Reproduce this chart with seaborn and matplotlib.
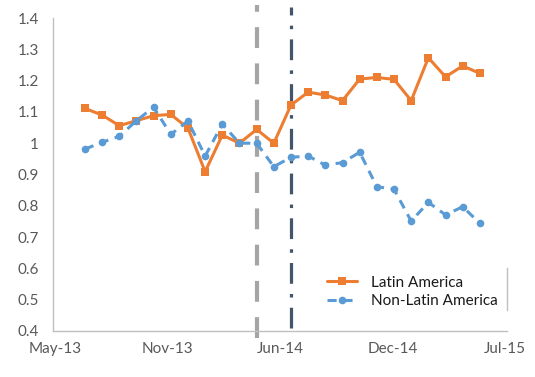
import numpy as np
import pandas as pd
import matplotlib
matplotlib.use("Agg")
import matplotlib.pyplot as plt
import seaborn as sns

# 월별 데이터 (2013-07 ~ 2015-06)
months = pd.date_range("2013-07-01", "2015-06-01", freq="MS").strftime("%b-%y").tolist()
latin = [1.111, 1.090, 1.056, 1.072, 1.088, 1.092, 1.048, 0.909, 1.026, 1.000,
         1.044, 1.000, 1.122, 1.163, 1.154, 1.136, 1.205, 1.210, 1.204, 1.136,
         1.273, 1.212, 1.247, 1.223]
non_latin = [0.981, 1.003, 1.022, 1.072, 1.115, 1.028, 1.071, 0.959, 1.061, 1.000,
             1.000, 0.925, 0.955, 0.959, 0.930, 0.938, 0.971, 0.861, 0.853, 0.751,
             0.811, 0.771, 0.797, 0.744]
series_names = ["Latin America", "Non-Latin America"]

# x축 눈금 라벨 (엑셀 날짜축)
tick_labels = ["May-13", "Nov-13", "Jun-14", "Dec-14", "Jul-15"]
tick_pos = [-1.75, 4.80, 11.36, 17.91, 24.46]

# 이벤트 시점 (월 인덱스)
event1 = months.index("May-14")
event2 = months.index("Jul-14")

df = pd.DataFrame({"x": np.arange(len(months)), "Latin": latin, "NonLatin": non_latin})

sns.set_style("white")
plt.rcParams['font.family'] = ['Lato', 'DejaVu Sans']

fig = plt.figure(figsize=(5.35, 3.77), dpi=100)
ax = fig.add_axes([53 / 535, 46 / 377, 454 / 535, 313 / 377])

orange = "#ED7D31"
blue = "#5B9BD5"

sns.lineplot(data=df, x="x", y="Latin", ax=ax, color=orange, linewidth=2.2,
             marker="s", markersize=5.5, markeredgewidth=0, label=series_names[0])
sns.lineplot(data=df, x="x", y="NonLatin", ax=ax, color=blue, linewidth=2.2,
             linestyle=(0, (3, 2.2)), marker="o", markersize=5.5, markeredgewidth=0,
             label=series_names[1])

# 세로 기준선
ax.axvline(event1, ymin=-0.022, ymax=1.042, color="#A5A5A5", linewidth=3,
           linestyle=(0, (5, 3.7)), clip_on=False, zorder=1)
ax.axvline(event2, ymin=0.01, ymax=1.035, color="#44546A", linewidth=2.3,
           linestyle=(0, (6.5, 3.2, 1.1, 3.2)), clip_on=False, zorder=1)

ax.set_xlim(-1.86, 24.58)
ax.set_ylim(0.4, 1.4)
ax.set_xticks(tick_pos)
ax.set_xticklabels(tick_labels)
ax.set_yticks(np.arange(0.4, 1.41, 0.1))
ax.set_yticklabels([f"{v:g}" for v in np.round(np.arange(0.4, 1.41, 0.1), 1)])
ax.tick_params(axis="both", length=0, labelsize=11, labelcolor="#595959")
ax.tick_params(axis="x", pad=8)
ax.tick_params(axis="y", pad=10)
ax.set_xlabel("")
ax.set_ylabel("")

ax.spines["top"].set_visible(False)
for side in ["left", "bottom", "right"]:
    ax.spines[side].set_color("#BFBFBF")
    ax.spines[side].set_linewidth(1)
ax.spines["right"].set_bounds(0.467, 0.601)

leg = ax.legend(loc="upper left", bbox_to_anchor=(319 / 535, 1 - 268 / 377),
                bbox_transform=fig.transFigure, frameon=False, fontsize=11,
                handlelength=2.0, handletextpad=0.9, labelspacing=0.3,
                borderpad=0)
for t in leg.get_texts():
    t.set_color("#1a1a1a")

fig.savefig("out.png", dpi=100)
